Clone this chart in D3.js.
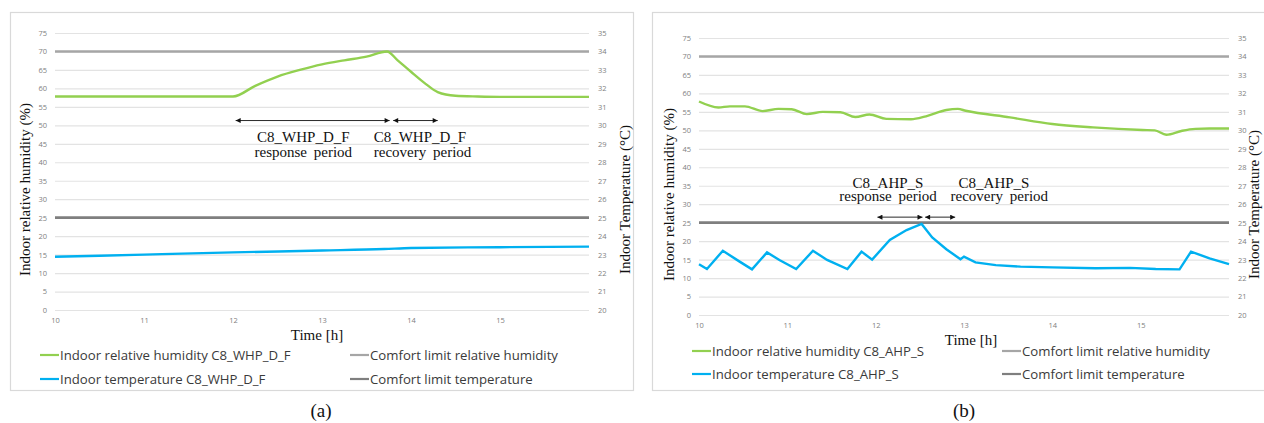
<!DOCTYPE html>
<html>
<head>
<meta charset="utf-8">
<script src="https://cdn.jsdelivr.net/npm/d3@7"></script>
<style>
  body { margin: 0; background: #fff; }
  svg { display: block; }
  .grid line { stroke: #e3e3e3; stroke-width: 1.2; }
  .grid text, .rax text, .xax text { fill: #808080; font-family: "Open Sans", sans-serif; font-size: 7.5px; }
  .serif { font-family: "Liberation Serif", "Times New Roman", serif; fill: #111; }
  .leg { font-family: "Open Sans", sans-serif; font-size: 13.2px; fill: #3a3a3a; }
</style>
</head>
<body>
<script>
// time axis (hours) and tick labels
const hourTicks = [10, 11, 12, 13, 14, 15];
const rhTicks = [0, 5, 10, 15, 20, 25, 30, 35, 40, 45, 50, 55, 60, 65, 70, 75];
const tempTicks = [20, 21, 22, 23, 24, 25, 26, 27, 28, 29, 30, 31, 32, 33, 34, 35];

// comfort limits
const rhLimit = 70;
const tempLimit = 25;

// (a) C8_WHP_D_F
const hoursRhA = [10, 12, 12.25, 12.5, 12.75, 13, 13.25, 13.5, 13.73, 13.85, 14, 14.15, 14.3, 14.5, 14.75, 15, 16];
const rhA      = [57.8, 57.8, 60.7, 63.2, 65.0, 66.5, 67.6, 68.6, 70, 67.6, 64.5, 61.5, 59.0, 58.0, 57.8, 57.7, 57.7];
const hoursTA  = [10, 11, 12, 13, 13.7, 14, 15, 16];
const tempA    = [22.88, 23.0, 23.12, 23.22, 23.3, 23.36, 23.4, 23.43];

// (b) C8_AHP_S
const hoursRhB = [10, 10.22, 10.35, 10.52, 10.72, 10.9, 11.05, 11.22, 11.4, 11.6, 11.77, 11.93, 12.12, 12.4, 12.57, 12.8, 12.93, 13.02, 13.52, 14, 14.46, 15.02, 15.16, 15.29, 15.47, 15.62, 15.78, 16];
const rhB      = [57.8, 56.2, 56.5, 56.5, 55.2, 55.8, 55.7, 54.4, 55.0, 54.9, 53.6, 54.3, 53.1, 53.0, 53.8, 55.5, 55.8, 55.3, 53.5, 51.7, 50.8, 50.1, 50.0, 48.8, 49.9, 50.4, 50.5, 50.5];
const hoursTB  = [10, 10.09, 10.27, 10.46, 10.6, 10.77, 10.91, 11.1, 11.29, 11.45, 11.68, 11.84, 11.96, 12.16, 12.35, 12.52, 12.64, 12.8, 12.96, 13.0, 13.13, 13.36, 13.64, 14, 14.49, 14.88, 15.17, 15.44, 15.57, 15.78, 16];
const tempB    = [22.75, 22.49, 23.48, 22.89, 22.47, 23.39, 22.98, 22.49, 23.48, 22.98, 22.49, 23.43, 23.0, 24.06, 24.6, 24.93, 24.2, 23.56, 23.02, 23.16, 22.85, 22.7, 22.62, 22.58, 22.53, 22.55, 22.49, 22.47, 23.43, 23.07, 22.76];

const W = 1264, H = 423;
const svg = d3.select('body').append('svg').attr('width', W).attr('height', H);

const defs = svg.append('defs');
['start', 'end'].forEach(k => {
  defs.append('marker')
    .attr('id', 'arr-' + k)
    .attr('viewBox', '0 0 10 10')
    .attr('refX', k === 'end' ? 10 : 0).attr('refY', 5)
    .attr('markerWidth', 7).attr('markerHeight', 5)
    .attr('markerUnits', 'userSpaceOnUse')
    .attr('orient', 'auto')
    .append('path')
    .attr('d', k === 'end' ? 'M0,0L10,5L0,10Z' : 'M10,0L0,5L10,10Z')
    .attr('fill', '#111');
});

function panel(o) {
  const g = svg.append('g');
  // frame
  g.append('rect')
    .attr('x', o.box[0] + 0.5).attr('y', o.box[1] + 0.5)
    .attr('width', o.box[2]).attr('height', o.box[3])
    .attr('fill', 'none').attr('stroke', '#d9d9d9').attr('stroke-width', 1.2);

  const x = d3.scaleLinear().domain([10, 16]).range([o.x0, o.x1]);
  const yL = d3.scaleLinear().domain([0, 75]).range([o.y1, o.y0]);
  const yR = d3.scaleLinear().domain([20, 35]).range([o.y1, o.y0]);

  g.append('g').attr('class', 'grid')
    .attr('transform', `translate(${o.x0},0)`)
    .call(d3.axisLeft(yL).tickValues(rhTicks).tickSize(-(o.x1 - o.x0)).tickPadding(8))
    .call(s => s.select('.domain').remove());

  g.append('g').attr('class', 'rax')
    .attr('transform', `translate(${o.x1},0)`)
    .call(d3.axisRight(yR).tickValues(tempTicks).tickSize(0).tickPadding(9))
    .call(s => s.select('.domain').remove())
    .selectAll('text').attr('dy', '0.32em');

  g.append('g').attr('class', 'xax')
    .attr('transform', `translate(0,${o.y1})`)
    .call(d3.axisBottom(x).tickValues(hourTicks).tickFormat(d3.format('d')).tickSize(0).tickPadding(8))
    .call(s => s.select('.domain').remove());

  // comfort limits
  g.append('line')
    .attr('x1', x(10)).attr('x2', x(16)).attr('y1', yL(rhLimit)).attr('y2', yL(rhLimit))
    .attr('stroke', '#a6a6a6').attr('stroke-width', 2.6);
  g.append('line')
    .attr('x1', x(10)).attr('x2', x(16)).attr('y1', yR(tempLimit)).attr('y2', yR(tempLimit))
    .attr('stroke', '#7f7f7f').attr('stroke-width', 2.6);

  const rhLine = d3.line().x(d => x(d[0])).y(d => yL(d[1])).curve(d3.curveMonotoneX);
  g.append('path').datum(d3.zip(o.hRh, o.rh))
    .attr('d', rhLine).attr('fill', 'none').attr('stroke', '#92d050').attr('stroke-width', 2.4);

  const tLine = d3.line().x(d => x(d[0])).y(d => yR(d[1])).curve(o.tCurve);
  g.append('path').datum(d3.zip(o.hT, o.t))
    .attr('d', tLine).attr('fill', 'none').attr('stroke', '#00b0f0').attr('stroke-width', 2.4);

  // annotation arrows and labels
  o.arrows.forEach(a => {
    g.append('line')
      .attr('x1', x(a[0])).attr('x2', x(a[1])).attr('y1', yL(a[2])).attr('y2', yL(a[2]))
      .attr('stroke', '#111').attr('stroke-width', 0.9)
      .attr('marker-start', 'url(#arr-start)').attr('marker-end', 'url(#arr-end)');
  });
  o.notes.forEach(n => {
    g.append('text').attr('class', 'serif')
      .attr('x', x(n[0])).attr('y', yL(n[1]))
      .attr('text-anchor', 'middle').attr('font-size', 15)
      .attr('word-spacing', 3)
      .text(n[2]);
  });

  // axis titles
  const mid = (o.y0 + o.y1) / 2;
  g.append('text').attr('class', 'serif')
    .attr('transform', `translate(${o.lt},${mid + 18}) rotate(-90)`)
    .attr('text-anchor', 'middle').attr('font-size', 15)
    .text('Indoor relative humidity (%)');
  g.append('text').attr('class', 'serif')
    .attr('transform', `translate(${o.rt},${mid + 28}) rotate(-90)`)
    .attr('text-anchor', 'middle').attr('font-size', 15)
    .text('Indoor Temperature (°C)');
  g.append('text').attr('class', 'serif')
    .attr('x', o.tx).attr('y', o.y1 + 30)
    .attr('text-anchor', 'middle').attr('font-size', 15)
    .text('Time [h]');

  // legend
  const leg = [
    [o.l1, o.ly[0], '#92d050', 'Indoor relative humidity ' + o.tag],
    [o.l2, o.ly[0], '#a6a6a6', 'Comfort limit relative humidity'],
    [o.l1, o.ly[1], '#00b0f0', 'Indoor temperature ' + o.tag],
    [o.l2, o.ly[1], '#7f7f7f', 'Comfort limit temperature']
  ];
  leg.forEach(l => {
    g.append('line').attr('x1', l[0]).attr('x2', l[0] + 19).attr('y1', l[1]).attr('y2', l[1])
      .attr('stroke', l[2]).attr('stroke-width', 2.2);
    g.append('text').attr('class', 'leg')
      .attr('x', l[0] + 20).attr('y', l[1]).attr('dy', '0.35em').text(l[3]);
  });

  g.append('text').attr('class', 'serif')
    .attr('x', o.cap).attr('y', 417).attr('text-anchor', 'middle').attr('font-size', 19)
    .text(o.label);
}

panel({
  box: [10, 12, 623, 378], x0: 55, x1: 589, y0: 33, y1: 310,
  hRh: hoursRhA, rh: rhA, hT: hoursTA, t: tempA, tCurve: d3.curveMonotoneX,
  arrows: [[12.03, 13.76, 51.3], [13.8, 14.3, 51.3]],
  notes: [[12.79, 45.6, 'C8_WHP_D_F'], [14.1, 45.6, 'C8_WHP_D_F'], [12.79, 41.3, 'response period'], [14.13, 41.3, 'recovery period']],
  lt: 30, rt: 630, tx: 317, tag: 'C8_WHP_D_F',
  l1: 40, l2: 350, ly: [355, 379], cap: 321, label: '(a)'
});

panel({
  box: [652, 12, 640, 378], x0: 699, x1: 1229, y0: 38, y1: 315,
  hRh: hoursRhB, rh: rhB, hT: hoursTB, t: tempB, tCurve: d3.curveLinear,
  arrows: [[12.02, 12.53, 26.5], [12.56, 12.9, 26.5]],
  notes: [[12.14, 34.5, 'C8_AHP_S'], [13.34, 34.5, 'C8_AHP_S'], [12.14, 30.8, 'response period'], [13.4, 30.8, 'recovery period']],
  lt: 674, rt: 1259, tx: 971, tag: 'C8_AHP_S',
  l1: 692, l2: 1002, ly: [351, 374], cap: 964, label: '(b)'
});
</script>
</body>
</html>
